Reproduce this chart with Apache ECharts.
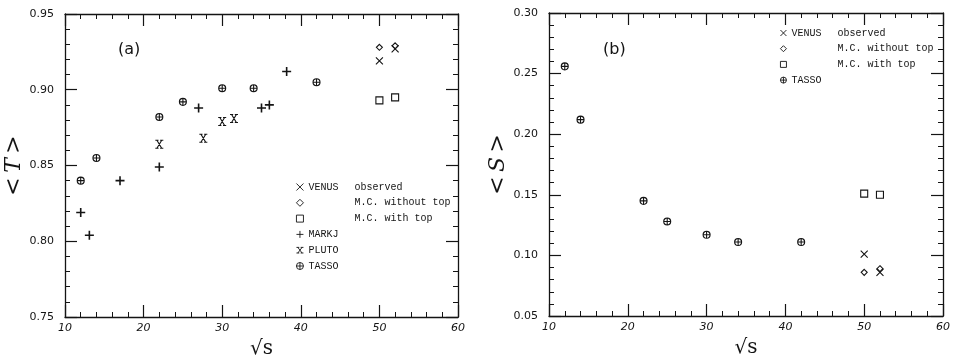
<!DOCTYPE html>
<html>
<head>
<meta charset="utf-8">
<script src="https://cdn.jsdelivr.net/npm/echarts@6/dist/echarts.min.js"></script>
<style>html,body{margin:0;padding:0;background:#fff;}#c{width:953px;height:359px;}</style>
</head>
<body>
<div id="c"></div>
<script>
// ---- Data: panel (a) <T> vs sqrt(s) ----
const tassoX_T = [12, 14, 22, 25, 30, 34, 42];
const tassoT = [0.840, 0.855, 0.882, 0.892, 0.901, 0.901, 0.905];
const markjX = [12, 13.1, 17, 22, 27, 35, 36, 38.2];
const markjT = [0.819, 0.804, 0.840, 0.849, 0.888, 0.888, 0.890, 0.912];
const plutoX = [22, 27.6, 30, 31.5];
const plutoT = [0.864, 0.868, 0.879, 0.881];
const venusX = [50, 52];
const venusT = [0.919, 0.927];
const mcNoTopT = [0.928, 0.929];
const mcTopT = [0.893, 0.895];
// ---- Data: panel (b) <S> vs sqrt(s) ----
const tassoX_S = [12, 14, 22, 25, 30, 34, 42];
const tassoS = [0.256, 0.212, 0.145, 0.128, 0.117, 0.111, 0.111];
const venusS = [0.101, 0.086];
const mcNoTopS = [0.086, 0.089];
const mcTopS = [0.151, 0.150];
// ---- Axis ticks ----
const xTicks = [10, 20, 30, 40, 50, 60];
const yTicksT = [0.75, 0.80, 0.85, 0.90, 0.95];
const yTicksS = [0.05, 0.10, 0.15, 0.20, 0.25, 0.30];

const legendA = ['VENUS observed', 'M.C. without top', 'M.C. with top', 'MARKJ', 'PLUTO', 'TASSO'];
const legendB = ['VENUS observed', 'M.C. without top', 'M.C. with top', 'TASSO'];

const INK = '#141414';
const SYM = {
  venus: 'path://M0,0L10,10M10,0L0,10',
  plus: 'path://M5,0L5,10M0,5L10,5',
  pluto: 'path://M2,1L8,9M8,1L2,9M0,1L4,1M6,1L10,1M0,9L4,9M6,9L10,9',
  tasso: 'path://M10,5A5,5,0,1,1,0,5A5,5,0,1,1,10,5ZM5,0L5,10M0,5L10,5',
  diamond: 'diamond',
  square: 'rect'
};
const hollow = {color: 'rgba(0,0,0,0)', borderColor: INK, borderWidth: 1.1, opacity: 1};

function zip(xs, ys) { return xs.map((x, i) => [x, ys[i]]); }

function xAx(gi, pos) {
  return {
    gridIndex: gi, type: 'value', position: pos, min: xTicks[0], max: xTicks[xTicks.length - 1], interval: 10,
    axisLine: {show: true, onZero: false, lineStyle: {color: INK, width: 1.3}},
    axisTick: {show: true, inside: true, length: 12, lineStyle: {color: INK, width: 1.2}},
    minorTick: {show: true, splitNumber: 5, length: 5, lineStyle: {color: INK, width: 1}},
    splitLine: {show: false},
    axisLabel: pos === 'bottom' ? {show: true, color: INK, fontSize: 11, fontFamily: 'DejaVu Sans', fontStyle: 'italic', margin: 6} : {show: false},
    name: pos === 'bottom' ? '\u221As' : '',
    nameLocation: 'middle', nameGap: 22,
    nameTextStyle: {fontFamily: 'DejaVu Serif', fontSize: 20, color: INK}
  };
}
function yAx(gi, pos, ticks, name) {
  return {
    gridIndex: gi, type: 'value', position: pos, min: ticks[0], max: ticks[ticks.length - 1], interval: 0.05,
    axisLine: {show: true, onZero: false, lineStyle: {color: INK, width: 1.3}},
    axisTick: {show: true, inside: true, length: 12, lineStyle: {color: INK, width: 1.2}},
    minorTick: {show: true, splitNumber: 5, length: 5, lineStyle: {color: INK, width: 1}},
    splitLine: {show: false},
    axisLabel: pos === 'left' ? {show: true, color: INK, fontSize: 11, fontFamily: 'DejaVu Sans', margin: 11, formatter: v => v.toFixed(2)} : {show: false},
    name: pos === 'left' ? name : '',
    nameLocation: 'middle', nameGap: 37, nameRotate: 90,
    nameTextStyle: {fontFamily: 'DejaVu Serif', fontSize: 22, fontStyle: 'italic', color: INK}
  };
}
function sc(name, sym, size, data, xi, yi, style) {
  return {name: name, type: 'scatter', xAxisIndex: xi, yAxisIndex: yi, symbol: sym, symbolSize: size,
    data: data, itemStyle: style || hollow, silent: true, z: 3};
}
function legendFmt(n) {
  if (n === 'VENUS observed') return '{a|VENUS}{b|observed}';
  if (n.indexOf('M.C.') === 0) return '{a|}{b|' + n + '}';
  return '{a|' + n + '}';
}
function legendText(w) {
  return {fontFamily: 'Liberation Mono', fontSize: 10, color: INK, lineHeight: 12,
    rich: {a: {width: w, fontFamily: 'Liberation Mono', fontSize: 10, color: INK}, b: {fontFamily: 'Liberation Mono', fontSize: 10, color: INK}}};
}

const chart = echarts.init(document.getElementById('c'), null, {renderer: 'canvas'});
chart.setOption({
  animation: false,
  backgroundColor: '#fff',
  grid: [
    {left: 65, right: 495, top: 14, bottom: 42, containLabel: false, outerBoundsMode: 'none'},
    {left: 549, right: 10, top: 13, bottom: 43, containLabel: false, outerBoundsMode: 'none'}
  ],
  xAxis: [xAx(0, 'bottom'), xAx(0, 'top'), xAx(1, 'bottom'), xAx(1, 'top')],
  yAxis: [yAx(0, 'left', yTicksT, '<\u2009T\u2009>'), yAx(0, 'right', yTicksT, ''), yAx(1, 'left', yTicksS, '<\u2009S\u2009>'), yAx(1, 'right', yTicksS, '')],
  legend: [
    {data: legendA, orient: 'vertical', left: 291, top: 176, itemWidth: 7, itemHeight: 7, itemGap: 3.8, selectedMode: false,
     itemStyle: {borderWidth: 0.9}, textStyle: legendText(46), formatter: legendFmt},
    {data: legendB, orient: 'vertical', left: 775, top: 22, itemWidth: 6, itemHeight: 6, itemGap: 3.7, selectedMode: false,
     itemStyle: {borderWidth: 0.9}, textStyle: legendText(46), formatter: legendFmt}
  ],
  graphic: [
    {type: 'text', left: 118, top: 42, style: {text: '(a)', font: '16px "DejaVu Sans"', fill: INK}},
    {type: 'text', left: 603, top: 42, style: {text: '(b)', font: '16px "DejaVu Sans"', fill: INK}}
  ],
  series: [
    sc('VENUS observed', SYM.venus, 7, zip(venusX, venusT), 0, 0),
    sc('M.C. without top', SYM.diamond, 6, zip(venusX, mcNoTopT), 0, 0),
    sc('M.C. with top', SYM.square, 7, zip(venusX, mcTopT), 0, 0),
    sc('MARKJ', SYM.plus, 9, zip(markjX, markjT), 0, 0, {color: 'rgba(0,0,0,0)', borderColor: INK, borderWidth: 1.6, opacity: 1}),
    sc('PLUTO', SYM.pluto, 8, zip(plutoX, plutoT), 0, 0),
    sc('TASSO', SYM.tasso, 7, zip(tassoX_T, tassoT), 0, 0),
    sc('VENUS observed', SYM.venus, 7, zip(venusX, venusS), 2, 2),
    sc('M.C. without top', SYM.diamond, 6, zip(venusX, mcNoTopS), 2, 2),
    sc('M.C. with top', SYM.square, 7, zip(venusX, mcTopS), 2, 2),
    sc('TASSO', SYM.tasso, 7, zip(tassoX_S, tassoS), 2, 2)
  ]
});
</script>
</body>
</html>
